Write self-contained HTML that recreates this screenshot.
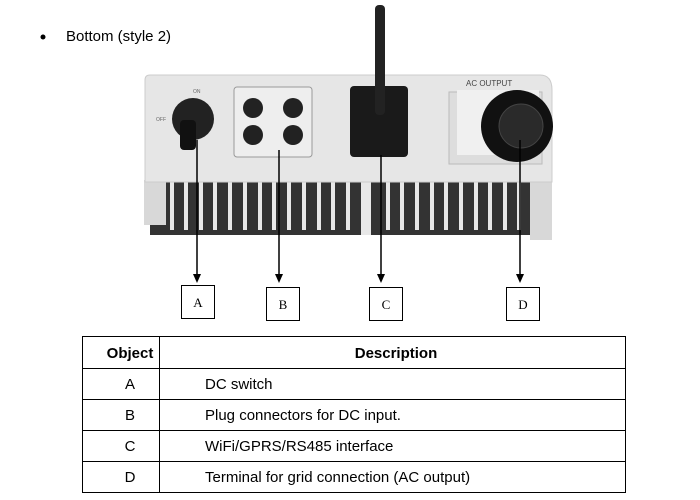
<!DOCTYPE html>
<html><head><meta charset="utf-8"><style>
body{margin:0;background:#fff;width:700px;height:500px;overflow:hidden;font-family:"Liberation Sans",sans-serif}
</style></head><body>
<svg width="700" height="500" xmlns="http://www.w3.org/2000/svg" style="position:absolute;left:0;top:0">
<circle cx="43" cy="37" r="2.5" fill="#000"/>
<text x="66" y="41" font-size="15" font-family="Liberation Sans">Bottom (style 2)</text>
<!-- fins background -->
<g fill="#333">
<rect x="150" y="180" width="398" height="55"/>
</g>
<g fill="#d8d8d8">
<rect x="144" y="180" width="22" height="45"/>
<rect x="530" y="180" width="22" height="60"/>
</g>
<g fill="#e8e8e8">
<rect x="170" y="180" width="4" height="50"/><rect x="184" y="180" width="4" height="50"/><rect x="199" y="180" width="4" height="50"/><rect x="213" y="180" width="4" height="50"/><rect x="228" y="180" width="4" height="50"/><rect x="243" y="180" width="4" height="50"/><rect x="258" y="180" width="4" height="50"/><rect x="272" y="180" width="4" height="50"/><rect x="287" y="180" width="4" height="50"/><rect x="302" y="180" width="4" height="50"/><rect x="317" y="180" width="4" height="50"/><rect x="331" y="180" width="4" height="50"/><rect x="346" y="180" width="4" height="50"/><rect x="361" y="180" width="10" height="55"/><rect x="386" y="180" width="4" height="50"/><rect x="400" y="180" width="4" height="50"/><rect x="415" y="180" width="4" height="50"/><rect x="430" y="180" width="4" height="50"/><rect x="444" y="180" width="4" height="50"/><rect x="459" y="180" width="4" height="50"/><rect x="474" y="180" width="4" height="50"/><rect x="488" y="180" width="4" height="50"/><rect x="503" y="180" width="4" height="50"/><rect x="517" y="180" width="4" height="50"/>
</g>
<!-- body -->
<path d="M145 80 Q145 75 150 75 L540 75 Q552 75 552 90 L552 182 L145 182 Z" fill="#e6e6e6" stroke="#ccc"/>
<!-- DC switch -->
<ellipse cx="193" cy="119" rx="21" ry="21" fill="#222"/>
<rect x="180" y="120" width="16" height="30" rx="4" fill="#111"/>
<text x="156" y="121" font-size="5" fill="#666">OFF</text>
<text x="193" y="93" font-size="5" fill="#666">ON</text>
<!-- DC panel -->
<rect x="234" y="87" width="78" height="70" rx="3" fill="#eee" stroke="#999"/>
<circle cx="253" cy="108" r="10" fill="#222"/><circle cx="293" cy="108" r="10" fill="#222"/>
<circle cx="253" cy="135" r="10" fill="#222"/><circle cx="293" cy="135" r="10" fill="#222"/>
<!-- wifi -->
<rect x="350" y="86" width="58" height="71" rx="4" fill="#1a1a1a"/>
<rect x="375" y="5" width="10" height="110" rx="4" fill="#222"/>
<!-- AC -->
<rect x="449" y="92" width="93" height="72" fill="#ddd" stroke="#bbb"/>
<rect x="457" y="90" width="82" height="65" fill="#f0f0f0"/>
<text x="466" y="86" font-size="8" fill="#444">AC OUTPUT</text>
<circle cx="517" cy="126" r="36" fill="#111"/>
<circle cx="521" cy="126" r="22" fill="#2a2a2a" stroke="#444"/>
<!-- arrows -->
<g stroke="#000" stroke-width="1.5">
<line x1="197" y1="140" x2="197" y2="275"/><line x1="279" y1="150" x2="279" y2="275"/>
<line x1="381" y1="155" x2="381" y2="275"/><line x1="520" y1="140" x2="520" y2="275"/>
</g>
<g fill="#000">
<path d="M193 274 L201 274 L197 283Z"/><path d="M275 274 L283 274 L279 283Z"/>
<path d="M377 274 L385 274 L381 283Z"/><path d="M516 274 L524 274 L520 283Z"/>
</g>
<g fill="#fff" stroke="#000">
<rect x="181.5" y="285.5" width="33" height="33"/><rect x="266.5" y="287.5" width="33" height="33"/>
<rect x="369.5" y="287.5" width="33" height="33"/><rect x="506.5" y="287.5" width="33" height="33"/>
</g>
<g font-family="Liberation Serif" font-size="13" text-anchor="middle">
<text x="198" y="307">A</text><text x="283" y="309">B</text><text x="386" y="309">C</text><text x="523" y="309">D</text>
</g>
<!-- table -->
<g stroke="#000" stroke-width="1">
<line x1="82" y1="336.5" x2="626" y2="336.5"/>
<line x1="82" y1="368.5" x2="626" y2="368.5"/>
<line x1="82" y1="399.5" x2="626" y2="399.5"/>
<line x1="82" y1="430.5" x2="626" y2="430.5"/>
<line x1="82" y1="461.5" x2="626" y2="461.5"/>
<line x1="82" y1="492.5" x2="626" y2="492.5"/>
<line x1="82.5" y1="336" x2="82.5" y2="493"/>
<line x1="159.5" y1="336" x2="159.5" y2="493"/>
<line x1="625.5" y1="336" x2="625.5" y2="493"/>
</g>
<g font-size="15">
<text x="130" y="358" text-anchor="middle" font-weight="bold">Object</text>
<text x="396" y="358" text-anchor="middle" font-weight="bold">Description</text>
<text x="130" y="389" text-anchor="middle">A</text>
<text x="130" y="420" text-anchor="middle">B</text>
<text x="130" y="451" text-anchor="middle">C</text>
<text x="130" y="482" text-anchor="middle">D</text>
<text x="205" y="389">DC switch</text>
<text x="205" y="420">Plug connectors for DC input.</text>
<text x="205" y="451">WiFi/GPRS/RS485  interface</text>
<text x="205" y="482">Terminal for grid connection (AC output)</text>
</g>
</svg>
</body></html>
